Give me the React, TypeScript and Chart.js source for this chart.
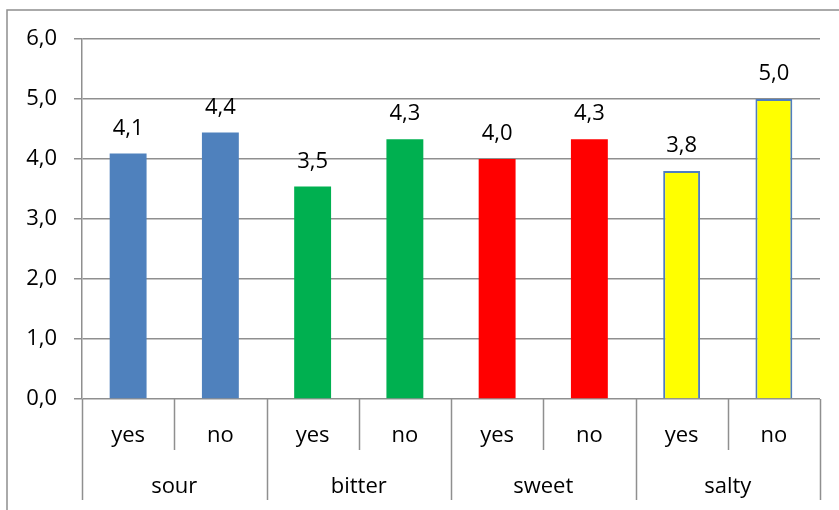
import { useEffect, useRef } from "react";
import { Chart, registerables } from "chart.js";

Chart.register(...registerables);

// Taste groups and the answer split inside each group
const groups = ["sour", "bitter", "sweet", "salty"];
const answers = ["yes", "no"];
// Mean score for each group/answer pair, in group order
const means = [4.09, 4.44, 3.54, 4.33, 4.0, 4.33, 3.8, 5.0];
const groupColors = ["#4F81BD", "#00B050", "#FF0000", "#FFFF00"];
const groupBorders = ["#4F81BD", "#00B050", "#FF0000", "#4F7DC0"];

const FONT = "'Open Sans', 'Liberation Sans', sans-serif";
const FONT_SIZE = 22;
const LINE = "#8f8f8f";

const categories = groups.flatMap((g) => answers.map((a) => `${g} ${a}`));
const fmt = (v: number) => v.toFixed(1).replace(".", ",");

const frameAndAxis = {
  id: "frameAndAxis",
  afterDraw(chart: any) {
    const { ctx, chartArea } = chart;
    const x = chart.scales.x;
    const step = x.getPixelForValue(1) - x.getPixelForValue(0);
    const half = step / 2;
    const base = chartArea.bottom;
    ctx.save();
    // outer frame
    ctx.strokeStyle = LINE;
    ctx.lineWidth = 1.5;
    ctx.strokeRect(7, 10, 1000, 800);

    ctx.fillStyle = "#000";
    ctx.font = `${FONT_SIZE}px ${FONT}`;
    ctx.textAlign = "center";
    ctx.textBaseline = "alphabetic";
    const n = categories.length;
    for (let i = 0; i <= n; i++) {
      const px = Math.round(x.getPixelForValue(i) - half) + 0.5;
      const long = i % answers.length === 0;
      ctx.beginPath();
      ctx.moveTo(px, base);
      ctx.lineTo(px, long ? base + 101 : base + 51);
      ctx.stroke();
    }
    categories.forEach((_, i) => {
      ctx.fillText(answers[i % answers.length], x.getPixelForValue(i), base + 43);
    });
    groups.forEach((g, gi) => {
      const first = x.getPixelForValue(gi * answers.length);
      const last = x.getPixelForValue(gi * answers.length + answers.length - 1);
      ctx.fillText(g, (first + last) / 2, base + 94);
    });
    ctx.restore();
  },
};

const valueLabels = {
  id: "valueLabels",
  afterDatasetsDraw(chart: any) {
    const { ctx } = chart;
    const meta = chart.getDatasetMeta(0);
    ctx.save();
    ctx.fillStyle = "#000";
    ctx.font = `${FONT_SIZE}px ${FONT}`;
    ctx.textAlign = "center";
    ctx.textBaseline = "alphabetic";
    meta.data.forEach((bar: any, i: number) => {
      ctx.fillText(fmt(means[i]), bar.x, bar.y - 19);
    });
    ctx.restore();
  },
};

export default function App() {
  const ref = useRef<HTMLCanvasElement>(null);

  useEffect(() => {
    document.body.style.margin = "0";
    const groupOf = (i: number) => Math.floor(i / answers.length);
    const chart = new Chart(ref.current!, {
      type: "bar",
      data: {
        labels: categories,
        datasets: [
          {
            data: means,
            backgroundColor: means.map((_, i) => groupColors[groupOf(i)]),
            borderColor: means.map((_, i) => groupBorders[groupOf(i)]),
            borderWidth: means.map((_, i) => (groups[groupOf(i)] === "salty" ? 2 : 0)),
            barPercentage: 0.4,
            categoryPercentage: 1,
          },
        ],
      },
      options: {
        responsive: false,
        animation: false,
        layout: { padding: { top: 39, right: 19, left: 0, bottom: 0 } },
        plugins: {
          legend: { display: false },
          tooltip: { enabled: false },
          title: { display: false },
        },
        scales: {
          x: {
            type: "category",
            ticks: { display: false },
            grid: { display: false },
            border: { display: false },
            afterFit: (s: any) => {
              s.height = 111;
            },
          },
          y: {
            min: 0,
            max: 6,
            ticks: {
              stepSize: 1,
              padding: 17,
              color: "#000",
              font: { family: FONT, size: FONT_SIZE },
              callback: (v: any) => fmt(Number(v)),
            },
            grid: { color: LINE, lineWidth: 1.5, tickLength: 8 },
            border: { color: LINE, width: 1.5 },
            afterFit: (s: any) => {
              s.width = 82;
            },
          },
        },
      },
      plugins: [frameAndAxis, valueLabels],
    });
    return () => chart.destroy();
  }, []);

  return <canvas ref={ref} width={839} height={510} />;
}
